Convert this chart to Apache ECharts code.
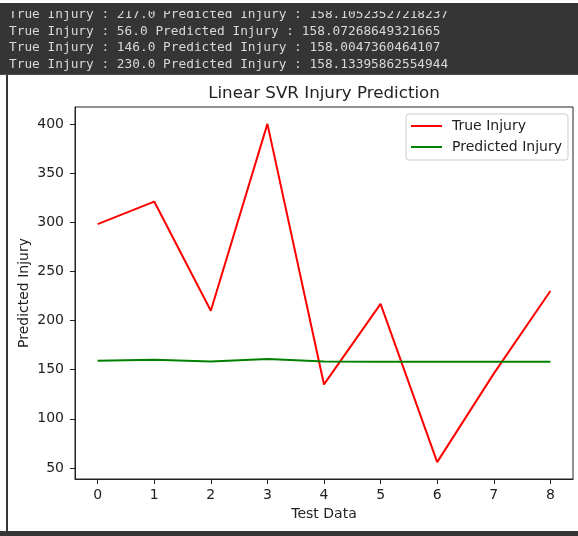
<!DOCTYPE html>
<html>
<head>
<meta charset="utf-8">
<script src="https://cdn.jsdelivr.net/npm/echarts@6/dist/echarts.min.js"></script>
<style>
html,body{margin:0;padding:0;background:#fff;}
#chart{width:578px;height:536px;}
</style>
</head>
<body>
<div id="chart"></div>
<script>
// ---- data ----
const xTicks = [0, 1, 2, 3, 4, 5, 6, 7, 8];
const yTicks = [50, 100, 150, 200, 250, 300, 350, 400];
const trueInjury = [298, 321, 210, 400, 135, 217, 56, 146, 230];
const predictedInjury = [159.2, 160.2, 158.4, 160.8, 158.3, 158.105, 158.073, 158.005, 158.134];
const seriesNames = ['True Injury', 'Predicted Injury'];
const titleText = 'Linear SVR Injury Prediction';
const xName = 'Test Data';
const yName = 'Predicted Injury';
const terminalLines = [
  'True Injury : 217.0 Predicted Injury : 158.10523527218237',
  'True Injury : 56.0 Predicted Injury : 158.07268649321665',
  'True Injury : 146.0 Predicted Injury : 158.0047360464107',
  'True Injury : 230.0 Predicted Injury : 158.13395862554944'
];

// ---- chart ----
const chart = echarts.init(document.getElementById('chart'), null, {renderer: 'canvas'});
const dark = '#353535';
const ink = '#222222';
const font = 'DejaVu Sans';

const graphics = [
  {type: 'rect', shape: {x: 0, y: 3, width: 578, height: 72}, style: {fill: dark}, z: 1, silent: true},
  {type: 'rect', shape: {x: 0, y: 74, width: 578, height: 1}, style: {fill: '#505050'}, z: 3, silent: true},
  {type: 'rect', shape: {x: 6, y: 75, width: 2, height: 461}, style: {fill: dark}, z: 1, silent: true},
  {type: 'rect', shape: {x: 0, y: 531, width: 578, height: 5}, style: {fill: dark}, z: 1, silent: true}
];
const lineYs = [15, 31.5, 48, 64.5];
terminalLines.forEach((t, i) => {
  graphics.push({
    type: 'text', x: 9, y: lineYs[i], z: 2, silent: true,
    style: {text: t, fill: '#d8d8d8', font: '12.8px "DejaVu Sans Mono"', textVerticalAlign: 'middle', textAlign: 'left'}
  });
});
// mask cutting the first terminal line
graphics.push({type: 'rect', shape: {x: 0, y: 3, width: 578, height: 8}, style: {fill: dark}, z: 4, silent: true});
// title
graphics.push({
  type: 'text', x: 324, y: 94, z: 5, silent: true,
  style: {text: titleText, fill: ink, font: '16.7px "DejaVu Sans"', textAlign: 'center', textVerticalAlign: 'middle'}
});

const option = {
  animation: false,
  backgroundColor: '#ffffff',
  graphic: graphics,
  grid: {left: 75, right: 5, top: 107, bottom: 57, show: true, borderColor: ink, borderWidth: 1, backgroundColor: 'transparent'},
  legend: {
    orient: 'vertical', left: 406, top: 114,
    data: seriesNames,
    itemWidth: 31, itemHeight: 14, itemGap: 7,
    padding: [5, 6, 6, 4],
    backgroundColor: '#ffffff', borderColor: '#cccccc', borderWidth: 1, borderRadius: 3,
    itemStyle: {color: 'rgba(0,0,0,0)', borderColor: 'rgba(0,0,0,0)', borderWidth: 0, opacity: 0},
    textStyle: {fontFamily: font, fontSize: 14, color: ink, padding: [0, 0, 0, 5]}
  },
  xAxis: {
    type: 'value', min: -0.4, max: 8.4,
    name: xName, nameLocation: 'middle', nameGap: 28, nameMoveOverlap: false,
    nameTextStyle: {fontFamily: font, fontSize: 14, color: ink},
    axisLine: {show: true, onZero: false, lineStyle: {color: ink, width: 1}},
    axisTick: {show: true, inside: false, length: 5, lineStyle: {color: ink}, customValues: xTicks},
    axisLabel: {fontFamily: font, fontSize: 14, color: ink, margin: 9, customValues: xTicks, formatter: v => String(v)},
    splitLine: {show: false}
  },
  yAxis: {
    type: 'value', min: 38.8, max: 417.2,
    name: yName, nameLocation: 'middle', nameGap: 44, nameRotate: 90, nameMoveOverlap: false,
    nameTextStyle: {fontFamily: font, fontSize: 14, color: ink},
    axisLine: {show: true, onZero: false, lineStyle: {color: ink, width: 1}},
    axisTick: {show: true, inside: false, length: 5, lineStyle: {color: ink}, customValues: yTicks},
    axisLabel: {fontFamily: font, fontSize: 14, color: ink, margin: 11, customValues: yTicks, formatter: v => String(v)},
    splitLine: {show: false}
  },
  series: [
    {
      name: seriesNames[0], type: 'line', symbol: 'none',
      data: xTicks.map((x, i) => [x, trueInjury[i]]),
      lineStyle: {color: '#ff0000', width: 2}, itemStyle: {color: '#ff0000'}, z: 3
    },
    {
      name: seriesNames[1], type: 'line', symbol: 'none',
      data: xTicks.map((x, i) => [x, predictedInjury[i]]),
      lineStyle: {color: '#008000', width: 2}, itemStyle: {color: '#008000'}, z: 3
    }
  ]
};
chart.setOption(option);
</script>
</body>
</html>
